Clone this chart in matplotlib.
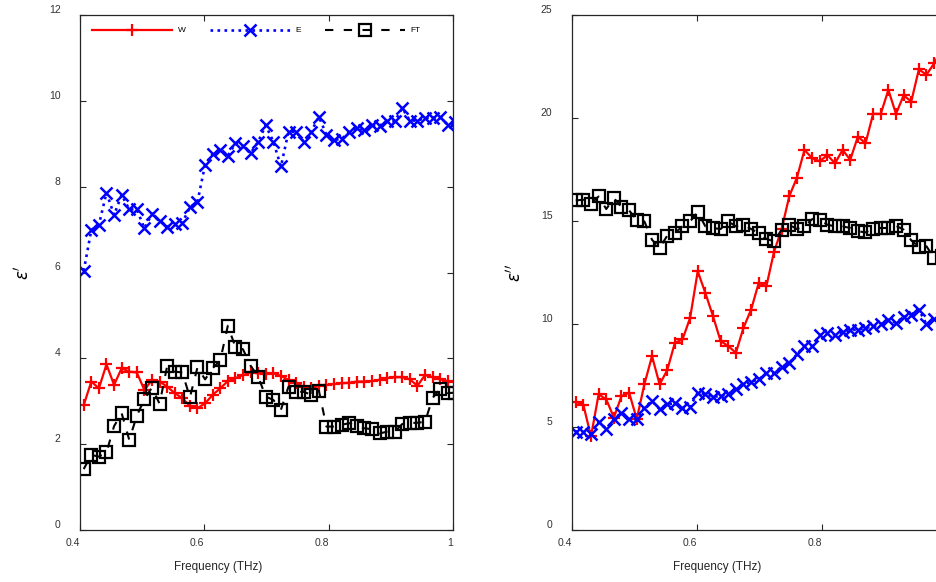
import matplotlib
matplotlib.use("Agg")
import matplotlib.pyplot as plt

plt.rcParams['font.family'] = ['Liberation Sans', 'DejaVu Sans']
plt.rcParams['mathtext.fontset'] = 'dejavusans'

# frequency grid (THz)
freq = [0.4060, 0.4182, 0.4304, 0.4426, 0.4548, 0.4670, 0.4792, 0.4914, 0.5036, 0.5158,
        0.5280, 0.5402, 0.5524, 0.5646, 0.5768, 0.5890, 0.6012, 0.6134, 0.6256, 0.6378,
        0.6500, 0.6622, 0.6744, 0.6866, 0.6988, 0.7110, 0.7232, 0.7354, 0.7476, 0.7598,
        0.7720, 0.7842, 0.7964, 0.8086, 0.8208, 0.8330, 0.8452, 0.8574, 0.8696, 0.8818,
        0.8940, 0.9062, 0.9184, 0.9306, 0.9428, 0.9550, 0.9672, 0.9794, 0.9916, 1.0038]

# real part eps'
w_real = [2.91, 3.46, 3.30, 3.86, 3.38, 3.77, 3.69, 3.67, 3.26, 3.50,
          3.46, 3.34, 3.19, 3.07, 2.89, 2.84, 2.95, 3.15, 3.30, 3.47,
          3.54, 3.61, 3.67, 3.65, 3.64, 3.65, 3.59, 3.50, 3.42, 3.34,
          3.30, 3.36, 3.38, 3.40, 3.42, 3.43, 3.46, 3.46, 3.47, 3.50,
          3.54, 3.56, 3.56, 3.51, 3.36, 3.61, 3.56, 3.51, 3.47, 3.45]
e_real = [6.04, 6.99, 7.11, 7.86, 7.34, 7.81, 7.47, 7.47, 7.03, 7.37,
          7.20, 7.07, 7.12, 7.16, 7.52, 7.65, 8.51, 8.76, 8.86, 8.72,
          9.01, 8.94, 8.78, 9.05, 9.43, 9.05, 8.47, 9.28, 9.28, 9.05,
          9.28, 9.63, 9.21, 9.09, 9.11, 9.28, 9.36, 9.32, 9.43, 9.42,
          9.53, 9.52, 9.83, 9.54, 9.54, 9.60, 9.61, 9.62, 9.44, 9.50]
ft_real = [1.42, 1.75, 1.71, 1.81, 2.42, 2.72, 2.10, 2.66, 3.05, 3.32,
           2.94, 3.82, 3.69, 3.67, 3.09, 3.79, 3.51, 3.77, 3.95, 4.76,
           4.26, 4.21, 3.83, 3.57, 3.11, 3.03, 2.80, 3.34, 3.22, 3.22,
           3.15, 3.25, 2.41, 2.41, 2.45, 2.49, 2.42, 2.37, 2.35, 2.25,
           2.29, 2.29, 2.47, 2.49, 2.50, 2.52, 3.08, 3.28, 3.19, 3.20]

# imaginary part eps''
w_imag = [6.23, 6.07, 4.54, 6.59, 6.34, 5.46, 6.50, 6.67, 5.38, 7.07,
          8.44, 7.07, 7.76, 9.09, 9.25, 10.30, 12.56, 11.50, 10.38, 9.17,
          8.93, 8.60, 9.82, 10.70, 12.00, 11.83, 13.50, 14.60, 16.20, 17.10,
          18.45, 18.05, 17.90, 18.20, 17.80, 18.45, 17.97, 19.10, 18.77, 20.20,
          20.20, 21.36, 20.20, 21.10, 20.80, 22.36, 22.10, 22.65, 23.30, 23.50]
e_imag = [4.78, 4.75, 4.68, 5.24, 4.92, 5.37, 5.70, 5.37, 5.37, 5.94,
          6.26, 5.86, 6.10, 6.15, 5.94, 5.99, 6.67, 6.59, 6.47, 6.50,
          6.59, 6.85, 7.07, 7.20, 7.31, 7.60, 7.64, 7.90, 8.12, 8.52,
          8.93, 8.93, 9.45, 9.55, 9.49, 9.60, 9.70, 9.73, 9.80, 9.89,
          9.98, 10.20, 10.06, 10.35, 10.46, 10.70, 9.98, 10.22, 10.30, 10.40]
ft_imag = [16.00, 16.03, 15.84, 16.19, 15.58, 16.11, 15.68, 15.51, 15.06, 14.98,
           14.09, 13.69, 14.29, 14.42, 14.74, 14.98, 15.43, 14.74, 14.66, 14.61,
           14.98, 14.74, 14.82, 14.61, 14.42, 14.13, 14.01, 14.58, 14.82, 14.61,
           14.74, 15.09, 15.06, 14.82, 14.74, 14.74, 14.66, 14.50, 14.45, 14.61,
           14.66, 14.66, 14.77, 14.58, 14.06, 13.74, 13.77, 13.21, 13.32, 13.40]

labels = ["W", "E", "FT"]
grey = '#262626'

fig = plt.figure(figsize=(9.37, 5.82), dpi=100)
ax1 = fig.add_axes([80 / 937, 52 / 582, 373 / 937, 515 / 582])
# right panel runs past the figure edge, as in the original export
ax2 = fig.add_axes([572 / 937, 52 / 582, 375 / 937, 515 / 582])


def draw(ax, w, e, ft):
    ax.plot(freq, w, color='red', lw=1.6, marker='+', ms=9, mew=1.6, label=labels[0])
    ax.plot(freq, e, color='blue', lw=1.9, ls=':', marker='x', ms=8, mew=1.8, label=labels[1])
    ax.plot(freq, ft, color='black', lw=1.5, dashes=(4, 5), marker='s', ms=9,
            mfc='none', mew=1.6, label=labels[2])
    ax.set_xlim(0.4, 1.0)
    ax.tick_params(direction='in', top=True, right=True, length=4, width=0.8,
                   labelsize=7.5, labelcolor='#333333', color=grey)
    ax.tick_params(axis='x', pad=6)
    ax.tick_params(axis='y', pad=14)
    for s in ax.spines.values():
        s.set_color(grey)
        s.set_linewidth(0.9)


draw(ax1, w_real, e_real, ft_real)
draw(ax2, w_imag, e_imag, ft_imag)

ax1.set_ylim(0, 12)
ax1.set_yticks([0, 2, 4, 6, 8, 10, 12])
ax1.set_xticks([0.4, 0.6, 0.8, 1.0])
ax1.set_xticklabels(['0.4', '0.6', '0.8', '1'])
ax2.set_ylim(0, 25)
ax2.set_yticks([0, 5, 10, 15, 20, 25])
ax2.set_xticks([0.4, 0.6, 0.8])
ax2.set_xticklabels(['0.4', '0.6', '0.8'])

for ax in (ax1, ax2):
    for lbl in ax.get_xticklabels():
        lbl.set_ha('right')
    for lbl in ax.get_yticklabels():
        lbl.set_va('bottom')
    ax.set_xlabel('Frequency (THz)', fontsize=8.5, color=grey)
    ax.xaxis.label.set_va('center')

ax1.xaxis.set_label_coords(0.37, -0.072)
ax2.xaxis.set_label_coords(0.387, -0.072)

ax1.set_ylabel(r"$\epsilon'$", fontsize=12)
ax2.set_ylabel(r"$\epsilon''$", fontsize=12)
ax1.yaxis.set_label_coords(-0.13, 0.5)
ax2.yaxis.set_label_coords(-0.128, 0.5)

ax1.legend(loc='upper left', ncol=3, frameon=False, fontsize=6,
           handlelength=9.6, handletextpad=0.7, columnspacing=2.9,
           borderaxespad=1.0, borderpad=0.4)

fig.savefig('out.png', dpi=100)
